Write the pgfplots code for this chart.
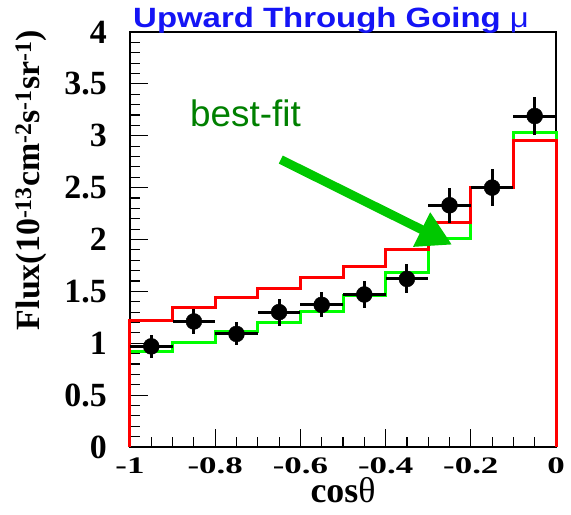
\documentclass[border=0pt]{standalone}
\usepackage{fontspec}
\setmainfont{Liberation Serif}
\newfontfamily\arial{Liberation Sans}
\usepackage{pgfplots}
\pgfplotsset{compat=1.18}
\usetikzlibrary{arrows.meta}
\definecolor{rootgreen}{RGB}{0,255,0}
\definecolor{arrowgreen}{RGB}{0,200,0}
\definecolor{textgreen}{RGB}{0,128,0}
\definecolor{rootblue}{RGB}{20,20,245}

% measured histogram / data (cos theta bins of 0.1)
\begin{document}
\begin{tikzpicture}
\begin{axis}[
  at={(0,0)}, anchor=south west,
  scale only axis, width=426bp, height=415bp,
  xmin=-1, xmax=0, ymin=0, ymax=4,
  clip=false,
  tick pos=left, tick align=inside,
  xtick={-1,-0.8,-0.6,-0.4,-0.2,0},
  xticklabels={-1,-0.8,-0.6,-0.4,-0.2,0},
  ytick={0,0.5,1,1.5,2,2.5,3,3.5,4},
  yticklabels={0,0.5,1,1.5,2,2.5,3,3.5,4},
  minor x tick num=3, minor y tick num=4,
  major tick length=18bp, minor tick length=10bp,
  every tick/.style={black, line width=1.2bp},
  axis line style={line width=2.5bp},
  xticklabel style={font=\fontsize{35}{36}\selectfont\bfseries, inner sep=0pt, yshift=-11bp, yscale=0.68},
  yticklabel style={font=\fontsize{34}{36}\selectfont\bfseries, inner sep=0pt, xshift=-23bp},
]
\addplot[const plot mark left, rootgreen, line width=3bp] coordinates {
  (-1,0) (-1,0.92) (-0.9,1.01) (-0.8,1.11) (-0.7,1.20) (-0.6,1.31)
  (-0.5,1.46) (-0.4,1.68) (-0.3,2.01) (-0.2,2.50) (-0.1,3.03) (0,0)};
\addplot[const plot mark left, red, line width=3bp] coordinates {
  (-1,0) (-1,1.22) (-0.9,1.34) (-0.8,1.44) (-0.7,1.53) (-0.6,1.63)
  (-0.5,1.74) (-0.4,1.90) (-0.3,2.16) (-0.2,2.50) (-0.1,2.95) (0,0)};
\addplot[only marks, mark=*, mark size=8bp, black,
  error bars/.cd, x dir=both, x explicit, y dir=both, y explicit,
  error mark=none, error bar style={line width=3bp, black}]
  table[x=x, y=y, x error=ex, y error=ey] {
  x     y    ex   ey
  -0.95 0.97 0.05 0.11
  -0.85 1.21 0.05 0.12
  -0.75 1.09 0.05 0.11
  -0.65 1.30 0.05 0.13
  -0.55 1.37 0.05 0.12
  -0.45 1.47 0.05 0.13
  -0.35 1.62 0.05 0.14
  -0.25 2.33 0.05 0.17
  -0.15 2.50 0.05 0.18
  -0.05 3.19 0.05 0.18
};
\draw[arrowgreen, line width=9bp, -{Triangle[length=34bp, width=36bp]}]
  (axis cs:-0.646,2.77) -- (axis cs:-0.244,1.95);
\end{axis}
\node[anchor=base west, text=rootblue, inner sep=0pt, xscale=1.18]
  at (3bp,419bp) {\fontsize{28}{30}\selectfont\arial\bfseries Upward Through Going \mdseries μ};
\node[anchor=base west, text=textgreen, inner sep=0pt]
  at (60bp,320bp) {\fontsize{37}{40}\selectfont\arial best-fit};
\node[rotate=90, anchor=base east, inner sep=0pt]
  at (-90bp,417bp) {\fontsize{34}{36}\selectfont\bfseries Flux(10\textsuperscript{-13}cm\textsuperscript{-2}s\textsuperscript{-1}sr\textsuperscript{-1})};
\node[anchor=base, inner sep=0pt]
  at (213bp,-55bp) {\fontsize{36}{38}\selectfont\bfseries cos\mdseries θ};
\pgfresetboundingbox
\useasboundingbox (-130bp,-68bp) rectangle (441bp,447bp);
\end{tikzpicture}
\end{document}
